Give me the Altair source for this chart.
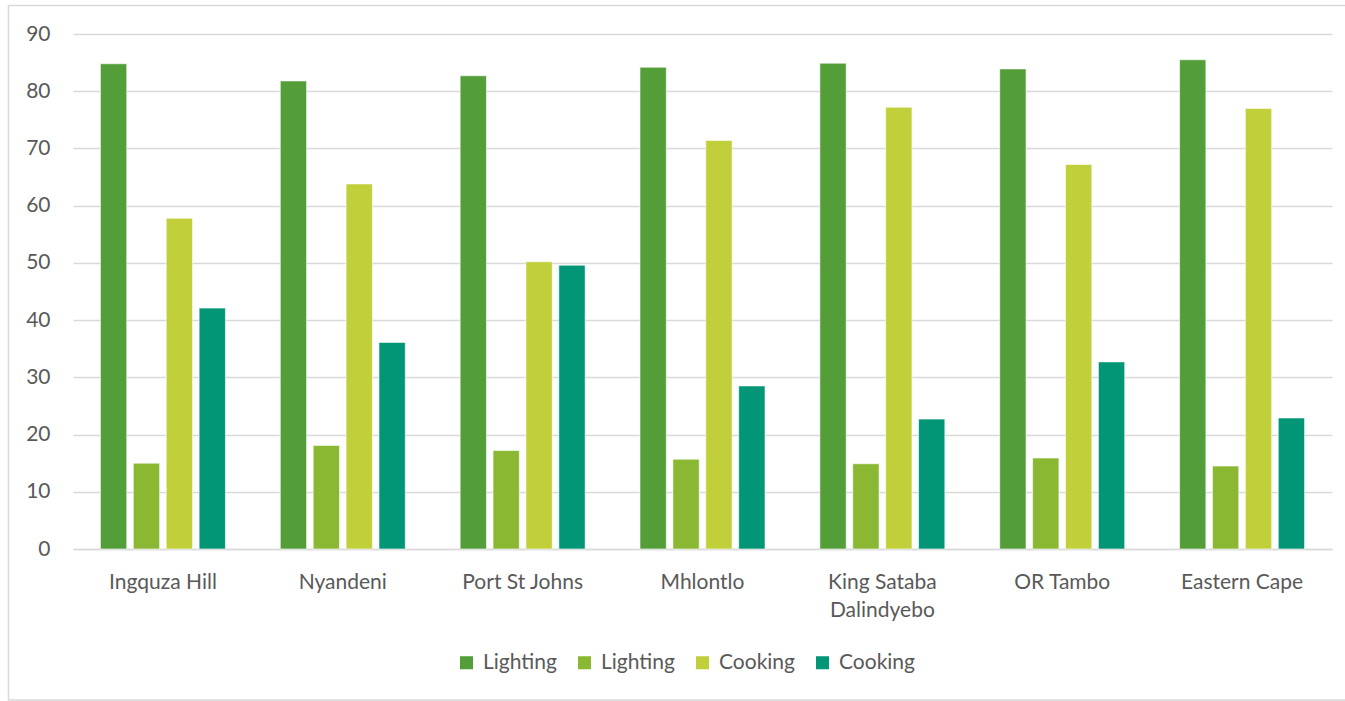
import altair as alt
import pandas as pd

# Municipalities along the x axis
categories = [
    "Ingquza Hill",
    "Nyandeni",
    "Port St Johns",
    "Mhlontlo",
    "King Sataba Dalindyebo",
    "OR Tambo",
    "Eastern Cape",
]

# Series keys (legend shows the word before the space)
series_ids = ["Lighting 1", "Lighting 2", "Cooking 1", "Cooking 2"]
series_colors = ["#549E39", "#8AB833", "#C0CF3A", "#029676"]

lighting_1 = [84.8, 81.8, 82.7, 84.2, 84.9, 83.9, 85.5]
lighting_2 = [15.0, 18.1, 17.2, 15.7, 14.9, 15.9, 14.5]
cooking_1 = [57.8, 63.8, 50.2, 71.4, 77.2, 67.2, 77.0]
cooking_2 = [42.1, 36.1, 49.6, 28.5, 22.7, 32.7, 22.9]

y_ticks = [0, 10, 20, 30, 40, 50, 60, 70, 80, 90]

rows = []
for sid, vals in zip(series_ids, [lighting_1, lighting_2, cooking_1, cooking_2]):
    for cat, v in zip(categories, vals):
        rows.append({"category": cat, "series": sid, "value": v})
df = pd.DataFrame(rows)

FONT = "Lato"
FONT_SIZE = 21
TEXT = "#595959"
GRID = "#D9D9D9"

PLOT_W = 1259
PLOT_H = 515

bars = alt.Chart(df).mark_bar(stroke="white", strokeWidth=0.6).encode(
    x=alt.X(
        "category:N",
        sort=categories,
        title=None,
        scale=alt.Scale(paddingInner=0.305, paddingOuter=0.1525),
        axis=alt.Axis(
            labelAngle=0,
            labelFont=FONT,
            labelFontSize=FONT_SIZE,
            labelColor=TEXT,
            labelPadding=39,
            labelLineHeight=28,
            labelBaseline="alphabetic",
            labelExpr="datum.label == 'King Sataba Dalindyebo' ? ['King Sataba', 'Dalindyebo'] : datum.label",
            domainColor=GRID,
            domainWidth=1.5,
            ticks=False,
        ),
    ),
    xOffset=alt.XOffset(
        "series:N",
        sort=series_ids,
        scale=alt.Scale(paddingInner=0.2, paddingOuter=0),
    ),
    y=alt.Y(
        "value:Q",
        title=None,
        scale=alt.Scale(domain=[0, 90], nice=False),
        axis=alt.Axis(
            values=y_ticks,
            labelFont=FONT,
            labelFontSize=FONT_SIZE,
            labelColor=TEXT,
            labelPadding=23,
            grid=True,
            gridColor=GRID,
            gridWidth=1.5,
            domain=False,
            ticks=False,
        ),
    ),
    color=alt.Color(
        "series:N",
        sort=series_ids,
        scale=alt.Scale(domain=series_ids, range=series_colors),
        legend=alt.Legend(
            title=None,
            orient="none",
            direction="horizontal",
            legendX=383,
            legendY=618,
            symbolType="square",
            symbolSize=170,
            symbolStrokeWidth=0,
            labelFont=FONT,
            labelFontSize=FONT_SIZE,
            labelColor=TEXT,
            labelOffset=6,
            columnPadding=17,
            labelExpr="split(datum.label, ' ')[0]",
        ),
    ),
)

# Light grey frame around the whole chart (runs past the right edge)
frame = alt.Chart(alt.Data(values=[{}])).mark_rect(
    filled=False, stroke=GRID, strokeWidth=1.5
).encode(
    x=alt.value(-64.5),
    x2=alt.value(1300),
    y=alt.value(-28.5),
    y2=alt.value(666),
)

chart = (
    alt.layer(frame, bars)
    .properties(
        width=PLOT_W,
        height=PLOT_H,
        padding={"left": 73, "top": 34, "right": 13, "bottom": 152},
        autosize=alt.AutoSizeParams(type="none"),
        background="white",
    )
    .configure_view(stroke=None)
)

chart.save("out.html", embed_options={"renderer": "svg", "actions": False})
